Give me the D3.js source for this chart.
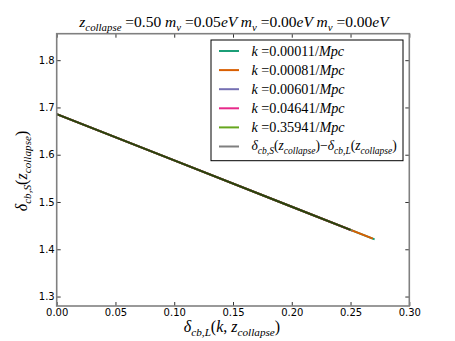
<!DOCTYPE html>
<html>
<head>
<meta charset="utf-8">
<script src="https://cdn.jsdelivr.net/npm/d3@7"></script>
<style>
  body { margin: 0; background: #fff; }
  svg { display: block; }
  .tick text { font-family: "DejaVu Sans", sans-serif; font-size: 10px; fill: #000; }
</style>
</head>
<body>
<div id="chart"></div>
<script>
// legend labels & colors
const seriesNames = ["k0", "k1", "k2", "k3", "k4"];
const kValues = ["0.00011", "0.00081", "0.00601", "0.04641", "0.35941"];
const seriesColors = ["#1b9e77", "#d95f02", "#7570b3", "#e7298a", "#66a61e"];

// delta_L values (x) and delta_S values (y) per k
const xK0 = [0.000, 0.100, 0.200, 0.2705];
const yK0 = [1.686, 1.588, 1.490, 1.421];
const xK1 = [0.000, 0.100, 0.200, 0.2690];
const yK1 = [1.686, 1.588, 1.490, 1.4225];
const xK2 = [0.000, 0.100, 0.200, 0.2515];
const yK2 = [1.686, 1.588, 1.490, 1.4395];
const xK3 = [0.000, 0.100, 0.200, 0.2512];
const yK3 = [1.686, 1.588, 1.490, 1.4398];
const xK4 = [0.000, 0.100, 0.200, 0.2510];
const yK4 = [1.686, 1.588, 1.490, 1.4400];
// difference curve
const xDiff = [0.000, 0.100, 0.200, 0.250];
const yDiff = [1.686, 1.588, 1.490, 1.441];

const xTicks = [0.00, 0.05, 0.10, 0.15, 0.20, 0.25, 0.30];
const yTicks = [1.3, 1.4, 1.5, 1.6, 1.7, 1.8];

const W = 455, H = 341;
const margin = {left: 56.7, right: W - 409.3, top: 33.7, bottom: H - 306};

const svg = d3.select("#chart").append("svg")
    .attr("width", W).attr("height", H);

const x = d3.scaleLinear().domain([0, 0.30]).range([margin.left, W - margin.right]);
const y = d3.scaleLinear().domain([1.28, 1.856]).range([H - margin.bottom, margin.top]);

// math-ish text: parts = [text, style] where style is r/i/sr/si
function mathText(sel, parts, size) {
    let off = 0;
    parts.forEach(([t, s]) => {
        const sub = s[0] === "s";
        const fs = sub ? size * 0.7 : size;
        const target = sub ? size * 0.28 : 0;
        sel.append("tspan")
            .attr("dy", target - off)
            .style("font-size", fs + "px")
            .style("font-style", s.endsWith("i") ? "italic" : "normal")
            .text(t);
        off = target;
    });
    if (off) sel.append("tspan").attr("dy", -off).text("");
}

// data lines
const xs = [xK0, xK1, xK2, xK3, xK4];
const ys = [yK0, yK1, yK2, yK3, yK4];
const line = d3.line().x(d => x(d[0])).y(d => y(d[1]));

const plot = svg.append("g");
xs.forEach((xv, i) => {
    plot.append("path")
        .datum(xv.map((v, j) => [v, ys[i][j]]))
        .attr("d", line)
        .attr("fill", "none")
        .attr("stroke", seriesColors[i])
        .attr("stroke-width", 2);
});
plot.append("path")
    .datum(xDiff.map((v, j) => [v, yDiff[j]]))
    .attr("d", line)
    .attr("fill", "none")
    .attr("stroke", "#000")
    .attr("stroke-opacity", 0.6)
    .attr("stroke-width", 2);

// axes (ticks inside, on all four sides)
const tk = 4;
svg.append("g").attr("transform", `translate(0,${H - margin.bottom})`)
    .call(d3.axisBottom(x).tickValues(xTicks).tickFormat(d3.format(".2f")).tickSizeInner(-tk).tickSizeOuter(0).tickPadding(3))
    .call(g => g.select(".domain").remove());
svg.append("g").attr("transform", `translate(0,${margin.top})`)
    .call(d3.axisTop(x).tickValues(xTicks).tickFormat("").tickSizeInner(-tk).tickSizeOuter(0))
    .call(g => g.select(".domain").remove());
svg.append("g").attr("transform", `translate(${margin.left},0)`)
    .call(d3.axisLeft(y).tickValues(yTicks).tickFormat(d3.format(".1f")).tickSizeInner(-tk).tickSizeOuter(0).tickPadding(2))
    .call(g => g.select(".domain").remove());
svg.append("g").attr("transform", `translate(${W - margin.right},0)`)
    .call(d3.axisRight(y).tickValues(yTicks).tickFormat("").tickSizeInner(-tk).tickSizeOuter(0))
    .call(g => g.select(".domain").remove());
svg.selectAll(".tick line").attr("stroke", "#333");

// frame
svg.append("rect")
    .attr("x", margin.left).attr("y", margin.top)
    .attr("width", W - margin.left - margin.right)
    .attr("height", H - margin.top - margin.bottom)
    .attr("fill", "none").attr("stroke", "#808080").attr("stroke-width", 1.6);

const serif = "'Liberation Serif', 'DejaVu Serif', serif";

// title
const title = svg.append("text")
    .attr("x", 234).attr("y", 27)
    .attr("text-anchor", "middle").style("font-family", serif);
mathText(title, [["z", "i"], ["collapse", "si"], [" =0.50 ", "r"], ["m", "i"], ["ν", "si"],
    [" =0.05", "r"], ["eV", "i"], [" m", "i"], ["ν", "si"], [" =0.00", "r"], ["eV", "i"],
    [" m", "i"], ["ν", "si"], [" =0.00", "r"], ["eV", "i"]], 15.5);

// axis labels
const xl = svg.append("text")
    .attr("x", 232).attr("y", 332)
    .attr("text-anchor", "middle").style("font-family", serif);
mathText(xl, [["δ", "i"], ["cb,L", "si"], ["(", "r"], ["k", "i"], [", ", "r"], ["z", "i"], ["collapse", "si"], [")", "r"]], 16);

const yl = svg.append("text")
    .attr("transform", "translate(27,171) rotate(-90)")
    .attr("text-anchor", "middle").style("font-family", serif);
mathText(yl, [["δ", "i"], ["cb,S", "si"], ["(", "r"], ["z", "i"], ["collapse", "si"], [")", "r"]], 16);

// legend
const lg = svg.append("g");
lg.append("rect").attr("x", 211).attr("y", 40).attr("width", 192).attr("height", 120.7)
    .attr("fill", "#fff").attr("stroke", "#000").attr("stroke-width", 1);
const rowY = i => 51 + i * 19.1;
seriesNames.forEach((s, i) => {
    lg.append("line").attr("x1", 219).attr("x2", 239).attr("y1", rowY(i)).attr("y2", rowY(i))
        .attr("stroke", seriesColors[i]).attr("stroke-width", 2);
    const t = lg.append("text").attr("x", 251.5).attr("y", rowY(i) + 4.5).style("font-family", serif);
    mathText(t, [["k", "i"], [" =" + kValues[i] + "/", "r"], ["Mpc", "i"]], 14.2);
});
lg.append("line").attr("x1", 219).attr("x2", 239).attr("y1", rowY(5)).attr("y2", rowY(5))
    .attr("stroke", "#000").attr("stroke-opacity", 0.5).attr("stroke-width", 2);
const lt = lg.append("text").attr("x", 251.5).attr("y", rowY(5) + 3.5).style("font-family", serif);
mathText(lt, [["δ", "i"], ["cb,S", "si"], ["(", "r"], ["z", "i"], ["collapse", "si"], [")−", "r"],
    ["δ", "i"], ["cb,L", "si"], ["(", "r"], ["z", "i"], ["collapse", "si"], [")", "r"]], 13.6);
</script>
</body>
</html>
